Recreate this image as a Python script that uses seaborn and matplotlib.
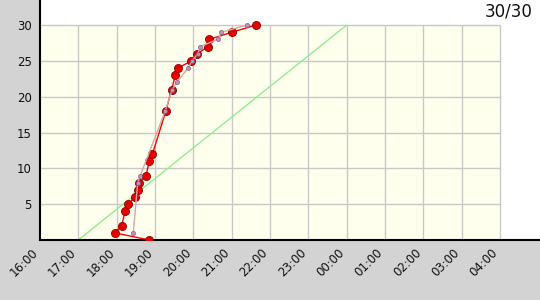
import matplotlib
matplotlib.use("Agg")
import matplotlib.pyplot as plt
import matplotlib.dates as mdates
from matplotlib.patches import Rectangle
from matplotlib.transforms import ScaledTranslation
import seaborn as sns
import pandas as pd

# ---- data ----
red_times = ["18:51", "17:57", "18:08", "18:13", "18:18", "18:28", "18:33", "18:35",
             "18:46", "18:51", "18:56", "19:17", "19:26", "19:32", "19:36", "19:57",
             "20:06", "20:23", "20:25", "21:00", "21:38"]
red_counts = [0, 1, 2, 4, 5, 6, 7, 8, 9, 11, 12, 18, 21, 23, 24, 25, 26, 27, 28, 29, 30]

pink_times = ["18:26", "18:33", "18:37", "19:16", "19:27", "19:34", "19:52", "19:58",
              "20:07", "20:11", "20:38", "20:44", "21:24"]
pink_counts = [1, 8, 9, 18, 21, 22, 24, 25, 26, 27, 28, 29, 30]

target_times = ["17:00", "00:00"]
target_counts = [0, 30]

hour_labels = ["16:00", "17:00", "18:00", "19:00", "20:00", "21:00", "22:00",
               "23:00", "00:00", "01:00", "02:00", "03:00", "04:00"]
y_labels = [5, 10, 15, 20, 25, 30]
title_text = "30/30"


def to_ts(s):
    h, m = map(int, s.split(":"))
    day = 1 if h >= 12 else 2
    return pd.Timestamp(2000, 1, day, h, m)


red_df = pd.DataFrame({"t": [to_ts(s) for s in red_times], "n": red_counts})
pink_df = pd.DataFrame({"t": [to_ts(s) for s in pink_times], "n": pink_counts})
target_df = pd.DataFrame({"t": [to_ts(s) for s in target_times], "n": target_counts})

sns.set_style("white")
plt.rcParams["font.family"] = ["DejaVu Sans"]

fig = plt.figure(figsize=(5.4, 3.0), dpi=100, facecolor="#d3d3d3")
ax = fig.add_axes([40 / 540, 60 / 300, 500 / 540, 240 / 300])
ax.set_facecolor("white")

start = to_ts("16:00")
end = to_ts("04:00")
x0 = mdates.date2num(start)
x1 = mdates.date2num(end)
ymax_box = 30

# plot background box
ax.add_patch(Rectangle((x0, 0), x1 - x0, ymax_box, facecolor="#ffffee",
                       edgecolor="none", zorder=0))

major = [to_ts(s) for s in hour_labels]
minor = [t + pd.Timedelta(minutes=30) for t in major[:-1]]
major_num = mdates.date2num(major)

# grid lines confined to the box
ax.vlines(major_num[1:], 0, ymax_box, colors="#c8c8c8", lw=1, zorder=0.5)
ax.hlines(y_labels, x0, x1, colors="#c8c8c8", lw=1, zorder=0.5)

sns.lineplot(data=target_df, x="t", y="n", sort=False, estimator=None,
             color="#90ee90", lw=1, ax=ax, zorder=2)
sns.lineplot(data=red_df, x="t", y="n", sort=False, estimator=None,
             color="#ff0000", lw=1, marker="o", markersize=5.8,
             markerfacecolor="#e80000", markeredgecolor="#8a0000",
             markeredgewidth=0.6, ax=ax, zorder=3)
sns.lineplot(data=pink_df, x="t", y="n", sort=False, estimator=None,
             color="#d4a8a8", lw=1, marker="o", markersize=3,
             markerfacecolor="#c090c0", markeredgecolor="#705070",
             markeredgewidth=0.4, ax=ax, zorder=4)

ax.set_xlim(x0, x0 + (500 / 38.33) / 24)
ax.set_ylim(0, 33.5)

ax.set_xticks(major_num)
ax.set_xticklabels(hour_labels, rotation=45, ha="right", va="baseline",
                   rotation_mode="anchor")
ax.set_xticks(mdates.date2num(minor), minor=True)
ax.set_yticks(y_labels)
ax.set_yticklabels([str(v) for v in y_labels])
ax.set_yticks([v for v in range(1, 30) if v % 5 != 0], minor=True)

ax.tick_params(axis="both", which="major", direction="in", length=5, width=1,
               color="black", labelsize=8.5, labelcolor="#111111")
ax.tick_params(axis="both", which="minor", direction="in", length=3, width=1,
               color="black")
ax.tick_params(axis="x", which="major", pad=9.4)
ax.tick_params(axis="y", which="major", pad=6)

shift = ScaledTranslation(-1.5 / 100, 0, fig.dpi_scale_trans)
for lab in ax.get_xticklabels():
    lab.set_transform(lab.get_transform() + shift)

for side in ["top", "right"]:
    ax.spines[side].set_visible(False)
for side in ["left", "bottom"]:
    ax.spines[side].set_color("black")
    ax.spines[side].set_linewidth(1.5)

ax.set_xlabel("")
ax.set_ylabel("")
if ax.get_legend():
    ax.get_legend().remove()

ax.text(0.986, 0.95, title_text, transform=ax.transAxes, ha="right",
        va="center", fontsize=12, color="#111111")

fig.savefig("out.png", dpi=100, facecolor=fig.get_facecolor())
